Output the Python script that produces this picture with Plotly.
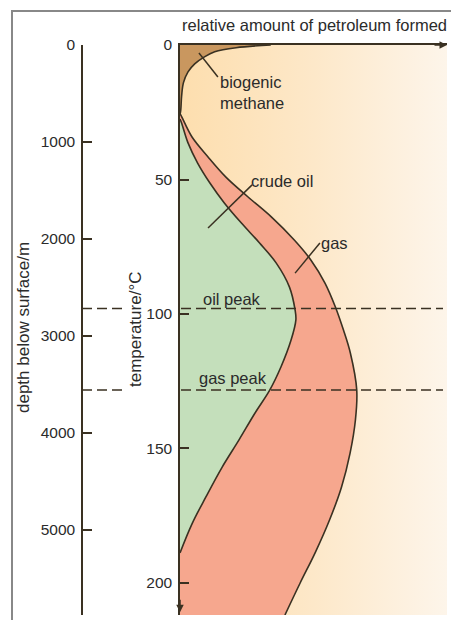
import plotly.graph_objects as go

# ---------------- data ----------------
# temperature (°C) along the vertical, relative amount (arbitrary 0-10) horizontally
methane_T = [0, 1.0, 2.5, 4.5, 7, 10, 14, 19, 24, 26]
methane_x = [3.4, 2.1, 1.3, 0.9, 0.55, 0.3, 0.13, 0.06, 0.03, 0.0]

oil_T = [27.5, 29, 36.4, 43.9, 51.3, 58.7, 66.2, 73.6, 81, 90, 98.5, 102.2, 109.7,
         119.7, 128.3, 136.8, 146.8, 156.9, 168, 178, 188.8]
oil_x = [0, 0.06, 0.30, 0.66, 1.12, 1.66, 2.30, 2.98, 3.60, 4.10, 4.31, 4.34, 4.16,
         3.78, 3.36, 2.81, 2.21, 1.58, 0.97, 0.45, 0]

# outer boundary of gas (oil + gas)
gas_T = [25.5, 26.8, 34.2, 41.6, 49.1, 56.5, 63.9, 72.5, 79.9, 88.5, 97.4, 105.9,
         114.5, 128.3, 139.4, 151.7, 164.3, 176.6, 188.8, 200, 211.9]
gas_x = [0, 0.07, 0.45, 1.05, 1.72, 2.55, 3.42, 4.28, 4.90, 5.43, 5.82, 6.12,
         6.38, 6.62, 6.57, 6.37, 6.05, 5.60, 5.06, 4.50, 3.93]

temp_ticks = [0, 50, 100, 150, 200]
depth_ticks = [0, 1000, 2000, 3000, 4000, 5000]
oil_peak_T = 98
gas_peak_T = 128.3

T_max = 211.9
depth_max = 5876
x_max = 10

# ---------------- style ----------------
W, H = 451, 620
LINE = "#3a3122"
TXT = "#2b2b2b"
FONT = "Liberation Sans, Arial, Helvetica, sans-serif"
BROWN = "#c9975f"
GREEN = "#c4dfbb"
SALMON = "#f6a78e"
FRAME = "#888888"

def px(xp):
    return xp / W

def py(yp):
    return 1 - yp / H

fig = go.Figure()

# background gradient panel
fig.add_trace(go.Scatter(
    x=[0, x_max, x_max, 0, 0], y=[0, 0, T_max, T_max, 0],
    mode="lines", line=dict(width=0), fill="toself",
    fillgradient=dict(type="horizontal",
                      colorscale=[[0, "#fddeae"], [0.5, "#fde8c9"], [1, "#fdf5ea"]]),
    hoverinfo="skip", showlegend=False))

# biogenic methane
fig.add_trace(go.Scatter(
    x=methane_x, y=methane_T, mode="lines", fill="tozerox",
    fillcolor=BROWN, line=dict(color=LINE, width=1.6, shape="spline"),
    hoverinfo="skip", showlegend=False))

# gas (filled from axis to the outer curve; oil drawn over it)
fig.add_trace(go.Scatter(
    x=gas_x, y=gas_T, mode="lines", fill="tozerox", fillcolor=SALMON,
    line=dict(color=LINE, width=1.6, shape="spline"),
    hoverinfo="skip", showlegend=False))

# crude oil
fig.add_trace(go.Scatter(
    x=oil_x, y=oil_T, mode="lines", fill="tozerox", fillcolor=GREEN,
    line=dict(color=LINE, width=1.6, shape="spline"),
    hoverinfo="skip", showlegend=False))

# invisible trace for depth axis
fig.add_trace(go.Scatter(x=[0], y=[0], yaxis="y2", mode="markers",
                         marker=dict(opacity=0), hoverinfo="skip", showlegend=False))

# page frame (top edge) on a full-page overlay subplot in pixel units
fig.add_trace(go.Scatter(x=[12, W], y=[11, 11], xaxis="x3", yaxis="y3",
                         mode="lines", line=dict(color=FRAME, width=2),
                         hoverinfo="skip", showlegend=False))

axis_common = dict(showgrid=False, zeroline=False, showline=True,
                   linecolor=LINE, linewidth=1.5, ticks="inside", ticklen=9,
                   tickwidth=1.5, tickcolor=LINE, automargin=False,
                   ticklabelstandoff=3, fixedrange=True,
                   tickfont=dict(family=FONT, size=15.5, color=TXT))

fig.update_layout(
    width=W, height=H, autosize=False, template="none",
    margin=dict(l=0, r=0, t=0, b=0),
    paper_bgcolor="white", plot_bgcolor="rgba(0,0,0,0)",
    showlegend=False,
    xaxis=dict(domain=[px(180), px(447)], range=[0, x_max], side="top",
               showgrid=False, zeroline=False, showline=True, linecolor=LINE,
               linewidth=1.5, showticklabels=False, ticks="", automargin=False,
               fixedrange=True),
    yaxis=dict(domain=[py(615), py(45)], range=[T_max, 0], anchor="x",
               tickvals=temp_ticks, **axis_common),
    yaxis2=dict(domain=[py(615), py(45)], range=[depth_max, 0], overlaying="y",
                anchor="free", position=px(82), side="left",
                tickvals=depth_ticks, **axis_common),
    xaxis3=dict(domain=[0, 1], range=[0, W], visible=False, anchor="y3",
                fixedrange=True),
    yaxis3=dict(domain=[0, 1], range=[H, 0], visible=False, anchor="x3",
                fixedrange=True),
)

shapes = []
# frame: left edge and top edge
shapes.append(dict(type="rect", xref="paper", yref="paper", x0=px(11), x1=px(13),
                   y0=0, y1=py(10), fillcolor=FRAME, line=dict(width=0)))
shapes.append(dict(type="rect", xref="paper", yref="paper", x0=px(11), x1=1,
                   y0=py(12), y1=py(10), fillcolor=FRAME, line=dict(width=0)))
# peak dashed lines
for t in (oil_peak_T, gas_peak_T):
    for a, b in ((82, 123), (181, 443)):
        shapes.append(dict(type="line", xref="paper", yref="y", x0=px(a), x1=px(b),
                           y0=t, y1=t, line=dict(color=LINE, width=1.5, dash="10px,5px")))
# leader lines
leaders = [((0.71, 3.0), (1.42, 11.9)),
           ((2.70, 52.0), (1.05, 68.0)),
           ((5.24, 73.6), (4.31, 84.8))]
for (x0, y0), (x1, y1) in leaders:
    shapes.append(dict(type="line", xref="x", yref="y", x0=x0, y0=y0, x1=x1, y1=y1,
                       line=dict(color=LINE, width=1.5)))
fig.update_layout(shapes=shapes)

f = dict(family=FONT, size=16.5, color=TXT)
ann = []
ann.append(dict(text="relative amount of petroleum formed", xref="paper", yref="paper",
                x=px(180), y=py(25), xanchor="left", yanchor="middle",
                showarrow=False, font=f))
ann.append(dict(text="depth below surface/m", xref="paper", yref="paper",
                x=px(23), y=py(328), textangle=-90, xanchor="center",
                yanchor="middle", showarrow=False,
                font=dict(family=FONT, size=17, color=TXT)))
ann.append(dict(text="temperature/°C", xref="paper", yref="paper",
                x=px(135), y=py(330), textangle=-90, xanchor="center",
                yanchor="middle", showarrow=False,
                font=dict(family=FONT, size=17, color=TXT)))
for txt, x, y in [("biogenic<br>methane", 1.42, 17.5), ("crude oil", 2.60, 50.6),
                  ("gas", 5.22, 73.6), ("oil peak", 0.80, 94.4),
                  ("gas peak", 0.62, 123.8)]:
    ann.append(dict(text=txt, x=x, y=y, xref="x", yref="y", xanchor="left",
                    yanchor="middle", align="left", showarrow=False, font=f))
# axis arrows
ann.append(dict(text="", x=x_max, y=0, xref="x", yref="y", ax=-14, ay=0,
                showarrow=True, arrowhead=2, arrowsize=1, arrowwidth=1.5,
                arrowcolor=LINE))
ann.append(dict(text="", x=0, y=T_max - 1, xref="x", yref="y", ax=0, ay=-14,
                showarrow=True, arrowhead=2, arrowsize=1, arrowwidth=1.5,
                arrowcolor=LINE))
fig.update_layout(annotations=ann)

fig.write_html("out.html", config={"displayModeBar": False},
               post_script="document.body.style.margin='0px';")
